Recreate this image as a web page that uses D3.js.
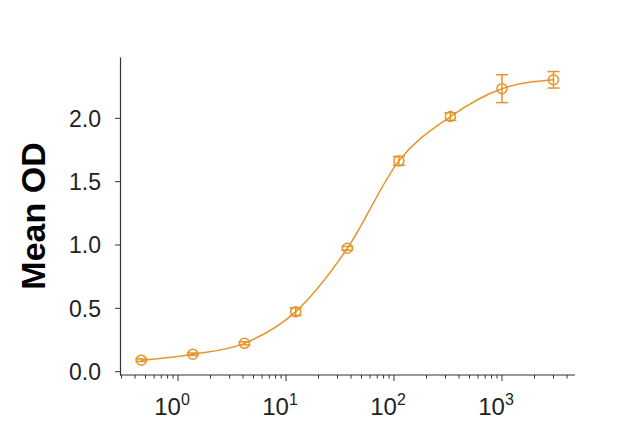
<!DOCTYPE html>
<html>
<head>
<meta charset="utf-8">
<script src="https://cdn.jsdelivr.net/npm/d3@7"></script>
<style>
  body { margin: 0; background: #fff; }
  text { font-family: "Liberation Sans", Arial, sans-serif; }
</style>
</head>
<body>
<div id="chart"></div>
<script>
// concentrations (3-fold dilution series) and measured OD
const conc = [0.457, 1.37, 4.12, 12.3, 37, 111, 333, 1000, 3000];
const meanOD = [0.087, 0.134, 0.22, 0.47, 0.97, 1.66, 2.01, 2.23, 2.30];
const errOD = [0.01, 0.01, 0.012, 0.03, 0.015, 0.035, 0.03, 0.11, 0.065];
const yTicks = [0, 0.5, 1.0, 1.5, 2.0];
const xDecades = [0, 1, 2, 3];

const W = 644, H = 432;
const margin = {top: 57, right: 69, bottom: 57, left: 120};
const width = W - margin.left - margin.right,
    height = H - margin.top - margin.bottom;
const color = "#e5952b";

const svg = d3.select("#chart").append("svg")
    .attr("width", W).attr("height", H)
  .append("g")
    .attr("transform", `translate(${margin.left}, ${margin.top})`);

const x = d3.scaleLog().domain([0.29, 4745]).range([0, width]);
const y = d3.scaleLinear().domain([-0.03, 2.48]).range([height, 0]);

// y axis
const yAxis = svg.append("g")
  .call(d3.axisLeft(y).tickValues(yTicks).tickFormat(d3.format(".1f")).tickSize(5).tickSizeOuter(0));
yAxis.select(".domain").attr("stroke", "#333").attr("stroke-width", 1.2);
yAxis.selectAll(".tick line").attr("stroke", "#333");
yAxis.selectAll("text").attr("font-size", 23).attr("fill", "#222").attr("x", -19).attr("dy", "0.36em");

// x axis: minor ticks
const minor = [];
for (let e = -1; e <= 3; e++) for (let m = 1; m <= 9; m++) {
  const v = m * Math.pow(10, e);
  if (v >= x.domain()[0] && v <= x.domain()[1]) minor.push(v);
}
const xAxis = svg.append("g").attr("transform", `translate(0, ${height})`);
xAxis.append("line").attr("x1", 0).attr("x2", width).attr("stroke", "#333").attr("stroke-width", 1.2);
xAxis.selectAll(".minor").data(minor).enter().append("line")
  .attr("x1", d => x(d)).attr("x2", d => x(d))
  .attr("y1", 0).attr("y2", d => Math.abs(Math.log10(d) - Math.round(Math.log10(d))) < 1e-9 ? 6 : 3.5)
  .attr("stroke", "#333").attr("stroke-width", 1);
const lbl = xAxis.selectAll(".lbl").data(xDecades).enter().append("text")
  .attr("x", d => x(Math.pow(10, d)) - 6)
  .attr("y", 40)
  .attr("text-anchor", "middle")
  .attr("font-size", 24).attr("fill", "#222");
lbl.append("tspan").text("10");
lbl.append("tspan").attr("dy", -10).attr("font-size", 16).text(d => d);

// y label
svg.append("text")
  .attr("transform", `translate(${-75}, ${height / 2}) rotate(-90)`)
  .attr("text-anchor", "middle")
  .attr("font-size", 34).attr("font-weight", "bold").attr("fill", "#000")
  .text("Mean OD");

const pts = conc.map((c, i) => ({c, m: meanOD[i], e: errOD[i]}));

// fitted curve
svg.append("path").datum(pts)
  .attr("fill", "none").attr("stroke", color).attr("stroke-width", 1.5)
  .attr("d", d3.line().x(d => x(d.c)).y(d => y(d.m)).curve(d3.curveMonotoneX));

// error bars
const eb = svg.append("g").attr("stroke", color).attr("stroke-width", 1.5);
eb.selectAll(".v").data(pts).enter().append("line")
  .attr("x1", d => x(d.c)).attr("x2", d => x(d.c))
  .attr("y1", d => y(d.m - d.e)).attr("y2", d => y(d.m + d.e));
eb.selectAll(".t").data(pts).enter().append("line")
  .attr("x1", d => x(d.c) - 6).attr("x2", d => x(d.c) + 6)
  .attr("y1", d => y(d.m + d.e)).attr("y2", d => y(d.m + d.e));
eb.selectAll(".b").data(pts).enter().append("line")
  .attr("x1", d => x(d.c) - 6).attr("x2", d => x(d.c) + 6)
  .attr("y1", d => y(d.m - d.e)).attr("y2", d => y(d.m - d.e));

// markers
svg.selectAll(".pt").data(pts).enter().append("circle")
  .attr("cx", d => x(d.c)).attr("cy", d => y(d.m)).attr("r", 5)
  .attr("fill", "none").attr("stroke", color).attr("stroke-width", 1.5);
</script>
</body>
</html>
